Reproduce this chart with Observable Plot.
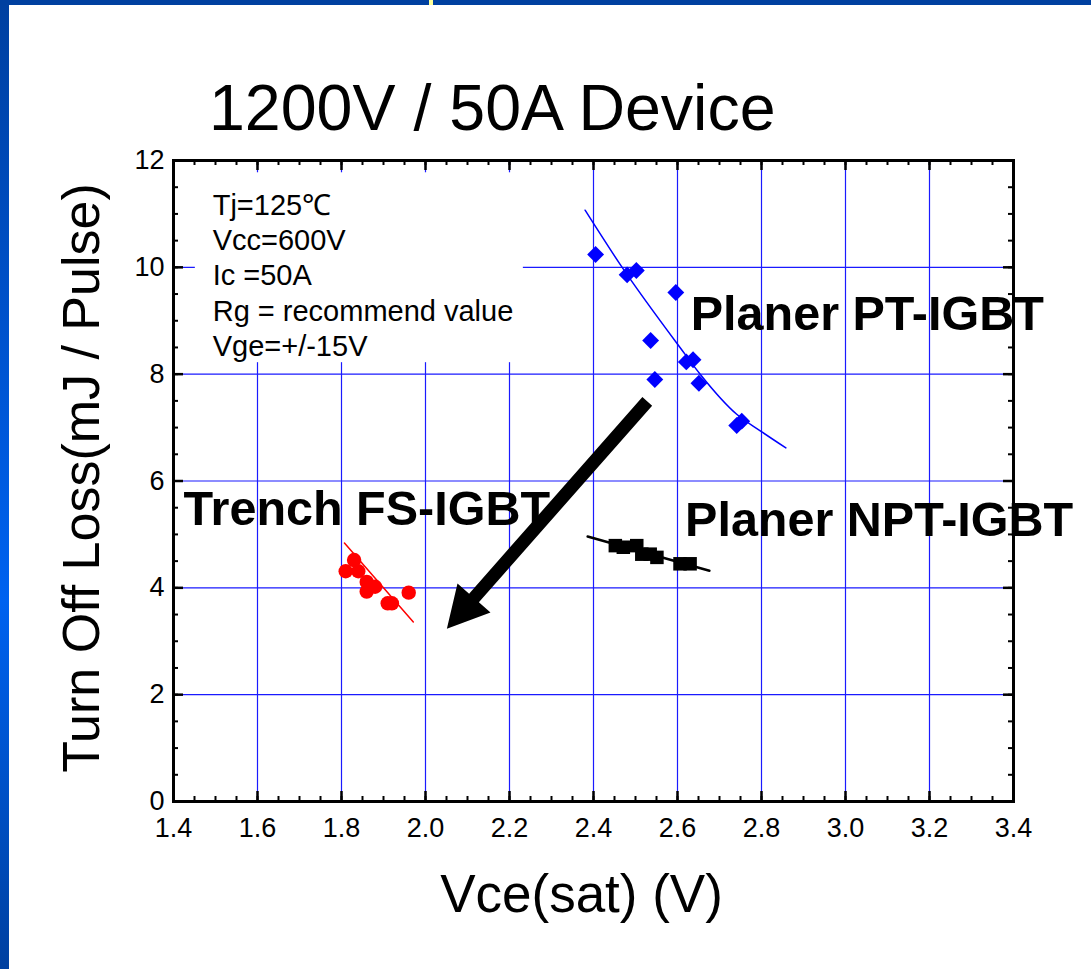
<!DOCTYPE html>
<html><head><meta charset="utf-8">
<script src="https://cdn.jsdelivr.net/npm/d3@7"></script>
<script src="https://cdn.jsdelivr.net/npm/@observablehq/plot@0.6"></script>
<style>
html,body{margin:0;padding:0;background:#fff;}
#page{position:relative;width:1091px;height:969px;overflow:hidden;background:#fff;font-family:"Liberation Sans",Arial,sans-serif;}
#leftbar{position:absolute;left:0;top:0;width:9px;height:969px;background:linear-gradient(#0040a0 0%,#0050c8 30%,#0062f0 62%,#0040a0 100%);}
#topbar{position:absolute;left:0;top:0;width:1091px;height:5px;background:#0040a0;}
#mark{position:absolute;left:429px;top:0;width:4px;height:5px;background:#ffff99;}
#title{position:absolute;left:209px;top:76px;font-size:64.5px;line-height:64px;white-space:nowrap;color:#000;}
#chart{position:absolute;left:0;top:140px;}
</style></head><body>
<div id="page"><div id="leftbar"></div><div id="topbar"></div><div id="mark"></div>
<div id="title">1200V / 50A Device</div><div id="chart"></div></div>
<script>
// ---- tick values ----
const xMajor = [1.4, 1.6, 1.8, 2.0, 2.2, 2.4, 2.6, 2.8, 3.0, 3.2, 3.4];
const yMajor = [0, 2, 4, 6, 8, 10, 12];
const xGrid = [1.6, 1.8, 2.0, 2.2, 2.4, 2.6, 2.8, 3.0, 3.2];
const yGrid = [2, 4, 6, 8, 10];
const xMinor = d3.range(0, 41).map(i => +(1.4 + i * 0.05).toFixed(2));
const yMinor = d3.range(0, 25).map(i => i * 0.5);

// ---- series: Planer PT-IGBT (blue diamonds) ----
const ptX = [2.405, 2.480, 2.502, 2.596, 2.536, 2.621, 2.637, 2.546, 2.651, 2.741, 2.753];
const ptY = [10.24, 9.86, 9.94, 9.53, 8.63, 8.23, 8.27, 7.90, 7.83, 7.04, 7.12];
const ptFitX = [2.380, 2.463, 2.606, 2.654, 2.741, 2.797, 2.858];
const ptFitY = [11.07, 10.06, 8.50, 8.00, 7.25, 6.94, 6.62];

// ---- series: Planer NPT-IGBT (black squares) ----
const nptX = [2.452, 2.471, 2.503, 2.515, 2.535, 2.551, 2.606, 2.630];
const nptY = [4.79, 4.76, 4.79, 4.63, 4.63, 4.57, 4.45, 4.45];
const nptFitX = [2.386, 2.676];
const nptFitY = [4.96, 4.32];

// ---- series: Trench FS-IGBT (red circles) ----
const fsX = [1.830, 1.810, 1.840, 1.860, 1.880, 1.860, 1.910, 1.920, 1.960];
const fsY = [4.52, 4.31, 4.31, 4.11, 4.02, 3.93, 3.71, 3.71, 3.91];
const fsFitX = [1.807, 1.971];
const fsFitY = [4.84, 3.36];

// ---- annotations ----
const seriesLabels = ["Planer PT-IGBT", "Planer NPT-IGBT", "Trench FS-IGBT"];
const seriesLabelX = [2.6315, 2.618, 1.424];
const seriesLabelY = [9.109, 5.257, 5.476];
const noteLines = ["Tj=125℃", "Vcc=600V", "Ic =50A", "Rg = recommend value", "Vge=+/-15V"];
const noteAt = {x: 1.4933, y: 11.457};
const noteBox = {x1: 1.452, x2: 2.233, y1: 8.215, y2: 11.77};
const arrowAt = {x: 2.528, y: 7.49};
const xTitle = "Vce(sat) (V)";
const yTitle = "Turn Off Loss(mJ / Pulse)";

const zip = (xs, ys) => xs.map((x, i) => ({x, y: ys[i]}));
const pt = zip(ptX, ptY), ptFit = zip(ptFitX, ptFitY);
const npt = zip(nptX, nptY), nptFit = zip(nptFitX, nptFitY);
const fs = zip(fsX, fsY), fsFit = zip(fsFitX, fsFitY);
const labels = seriesLabels.map((t, i) => ({t, x: seriesLabelX[i], y: seriesLabelY[i]}));

const W = 1091, H = 801, mL = 173, mR = 78, mT = 20, mB = 140;
const innerW = W - mL - mR, innerH = H - mT - mB;
const majorLen = 10, minorLen = 5;
const gridColor = "#1a1aff";

const arrowShape = {
  draw(ctx, l) {
    const w = 6.5, hw = 22, hl = 41;
    ctx.moveTo(-w, 0);
    ctx.lineTo(-w, hl - l);
    ctx.lineTo(-hw, hl - l);
    ctx.lineTo(0, -l);
    ctx.lineTo(hw, hl - l);
    ctx.lineTo(w, hl - l);
    ctx.lineTo(w, 0);
    ctx.closePath();
  }
};

const chart = Plot.plot({
  width: W, height: H,
  marginLeft: mL, marginRight: mR, marginTop: mT, marginBottom: mB,
  x: {domain: [1.4, 3.4], axis: null},
  y: {domain: [0, 12], axis: null},
  style: {fontFamily: "'Liberation Sans', Arial, sans-serif", fontSize: "27px", color: "black", background: "transparent", overflow: "visible"},
  marks: [
    Plot.gridX(xGrid, {stroke: gridColor, strokeOpacity: 1, strokeWidth: 1.2}),
    Plot.gridY(yGrid, {stroke: gridColor, strokeOpacity: 1, strokeWidth: 1.2}),
    Plot.rect([noteBox], {x1: "x1", x2: "x2", y1: "y1", y2: "y2", fill: "white"}),
    Plot.line(ptFit, {x: "x", y: "y", stroke: "#0000ff", strokeWidth: 1.5, curve: "monotone-x"}),
    Plot.line(nptFit, {x: "x", y: "y", stroke: "black", strokeWidth: 2.5}),
    Plot.line(fsFit, {x: "x", y: "y", stroke: "#ff0000", strokeWidth: 1.5}),
    Plot.dot(pt, {x: "x", y: "y", symbol: "diamond2", r: 7.6, fill: "#0000ff", stroke: "none"}),
    Plot.dot(npt, {x: "x", y: "y", symbol: "square2", r: 8.6, fill: "black", stroke: "none"}),
    Plot.dot(fs, {x: "x", y: "y", symbol: "circle", r: 7.2, fill: "#ff0000", stroke: "none"}),
    Plot.vector([arrowAt], {x: "x", y: "y", length: 303, rotate: 221.4, anchor: "start", shape: arrowShape, fill: "black", stroke: "none"}),
    Plot.text(labels, {x: "x", y: "y", text: "t", textAnchor: "start", lineAnchor: "middle", fontSize: 48.5, fontWeight: "bold", fill: "black"}),
    Plot.text([noteLines.join("\n")], {x: () => noteAt.x, y: () => noteAt.y, text: d => d, textAnchor: "start", lineAnchor: "top", lineHeight: 1.22, fontSize: 29, fill: "black"}),
    // inward ticks
    Plot.tickX(xMinor, {x: d => d, insetTop: innerH - minorLen, stroke: "black", strokeWidth: 2}),
    Plot.tickX(xMinor, {x: d => d, insetBottom: innerH - minorLen, stroke: "black", strokeWidth: 2}),
    Plot.tickX(xMajor, {x: d => d, insetTop: innerH - majorLen, stroke: "black", strokeWidth: 2.5}),
    Plot.tickX(xMajor, {x: d => d, insetBottom: innerH - majorLen, stroke: "black", strokeWidth: 2.5}),
    Plot.tickY(yMinor, {y: d => d, insetRight: innerW - minorLen, stroke: "black", strokeWidth: 2}),
    Plot.tickY(yMinor, {y: d => d, insetLeft: innerW - minorLen, stroke: "black", strokeWidth: 2}),
    Plot.tickY(yMajor, {y: d => d, insetRight: innerW - majorLen, stroke: "black", strokeWidth: 2.5}),
    Plot.tickY(yMajor, {y: d => d, insetLeft: innerW - majorLen, stroke: "black", strokeWidth: 2.5}),
    Plot.frame({stroke: "black", strokeWidth: 3}),
    Plot.axisX(xMajor, {tickSize: 0, tickPadding: 16, tickFormat: d3.format(".1f"), fontSize: 27, label: null}),
    Plot.axisY(yMajor, {tickSize: 0, tickPadding: 9, tickFormat: d3.format("d"), fontSize: 27, label: null}),
    Plot.text([xTitle], {frameAnchor: "bottom", text: d => d, textAnchor: "middle", lineAnchor: "middle", dy: 94, dx: -12, fontSize: 53}),
    Plot.text([yTitle], {frameAnchor: "left", text: d => d, textAnchor: "middle", lineAnchor: "middle", rotate: -90, dx: -91, dy: -3, fontSize: 52})
  ]
});
document.getElementById("chart").appendChild(chart);
</script>
</body></html>
